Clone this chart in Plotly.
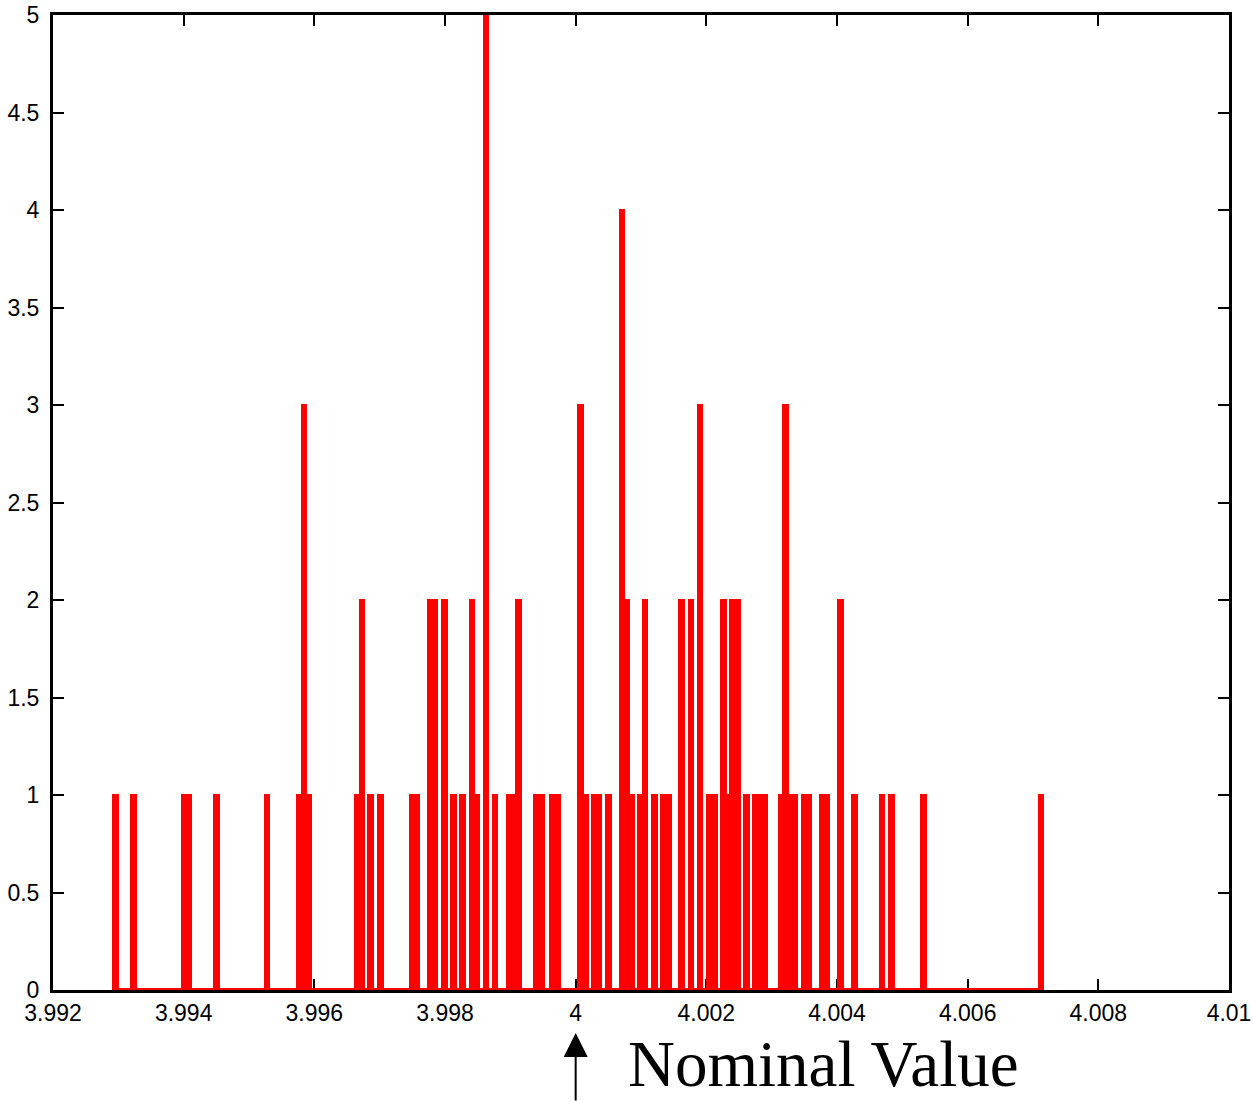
import plotly.graph_objects as go

# Histogram bin centres and their counts
bin_centers = [
    3.992954, 3.993235, 3.994010, 3.994082, 3.994499, 3.995276,
    3.995770, 3.995842, 3.995914, 3.996656, 3.996727, 3.996864, 3.997008,
    3.997499, 3.997571, 3.997775, 3.997847, 3.997989, 3.998133, 3.998272,
    3.998413, 3.998485, 3.998628, 3.998765, 3.998980, 3.999052, 3.999122,
    3.999404, 3.999474, 3.999648, 3.999719,
    4.000077, 4.000148, 4.000284, 4.000355, 4.000498, 4.000709, 4.000780,
    4.000850, 4.000990, 4.001061, 4.001202, 4.001346, 4.001416, 4.001623,
    4.001765, 4.001903, 4.002050, 4.002120, 4.002261, 4.002332, 4.002402,
    4.002472, 4.002612, 4.002753, 4.002824, 4.002895, 4.003143, 4.003214,
    4.003285, 4.003356, 4.003498, 4.003569, 4.003775, 4.003846, 4.004057,
    4.004268, 4.004689, 4.004834, 4.005321, 4.007122,
]
counts = [
    1, 1, 1, 1, 1, 1,
    1, 3, 1, 1, 2, 1, 1,
    1, 1, 2, 2, 2, 1, 1,
    2, 1, 5, 1, 1, 1, 2,
    1, 1, 1, 1,
    3, 1, 1, 1, 1, 4, 2,
    1, 1, 2, 1, 1, 1, 2,
    2, 3, 1, 1, 2, 1, 2,
    2, 1, 1, 1, 1, 1, 3,
    1, 1, 1, 1, 1, 1, 2,
    1, 1, 1, 1, 1,
]
bin_width = 0.0000712

x_tick_vals = [3.992, 3.994, 3.996, 3.998, 4.0, 4.002, 4.004, 4.006, 4.008, 4.01]
x_tick_text = ["3.992", "3.994", "3.996", "3.998", "4", "4.002", "4.004", "4.006", "4.008", "4.01"]
y_tick_vals = [0, 0.5, 1, 1.5, 2, 2.5, 3, 3.5, 4, 4.5, 5]
y_tick_text = ["0", "0.5", "1", "1.5", "2", "2.5", "3", "3.5", "4", "4.5", "5"]

annotation_text = "Nominal Value"
nominal_value = 4.0

RED = "#ff0000"

fig = go.Figure()
fig.add_trace(go.Bar(
    x=bin_centers, y=counts, width=bin_width,
    marker=dict(color=RED, line=dict(color=RED, width=2)),
    showlegend=False, hoverinfo="x+y",
))
# zero-height bins drawn as a baseline from first to last bin edge
fig.add_trace(go.Scatter(
    x=[bin_centers[0] - bin_width / 2, bin_centers[-1] + bin_width / 2], y=[0, 0],
    mode="lines", line=dict(color=RED, width=4), cliponaxis=False,
    showlegend=False, hoverinfo="skip",
))

axis_font = dict(family="Liberation Sans, Arial, sans-serif", size=23, color="black")
fig.update_xaxes(
    range=[3.992, 4.01], tickvals=x_tick_vals, ticktext=x_tick_text,
    ticks="inside", ticklen=11, tickwidth=2, tickcolor="black",
    showline=True, linecolor="black", linewidth=3, mirror="ticks",
    showgrid=False, zeroline=False, tickfont=axis_font, layer="below traces",
    automargin=False, ticklabelstandoff=0, ticklabeloverflow="allow",
)
fig.update_yaxes(
    range=[0, 5], tickvals=y_tick_vals, ticktext=y_tick_text,
    ticks="inside", ticklen=11, tickwidth=2, tickcolor="black",
    showline=True, linecolor="black", linewidth=3, mirror="ticks",
    showgrid=False, zeroline=False, tickfont=axis_font, layer="below traces",
    automargin=False, ticklabelstandoff=6, ticklabeloverflow="allow",
)

fig.add_annotation(
    x=nominal_value, xref="x", y=-0.0441, yref="paper",
    ax=0, ay=72, axref="pixel", ayref="pixel",
    text="", showarrow=True, arrowhead=2, arrowsize=2.4, arrowwidth=2,
    arrowcolor="black",
)
fig.add_annotation(
    x=0.4872, xref="paper", y=-0.1144, yref="paper",
    xanchor="left", yanchor="bottom", showarrow=False,
    text=annotation_text,
    font=dict(family="Liberation Serif, Times New Roman, serif", size=65, color="black"),
)

fig.update_layout(
    width=1253, height=1102,
    margin=dict(l=53, r=24, t=15, b=112, autoexpand=False),
    plot_bgcolor="white", paper_bgcolor="white",
    bargap=0,
)

# remove the page's default body margin so the figure sits at the window's top-left corner
fig.write_html(
    "out.html",
    config={"displayModeBar": False},
    post_script="document.body.style.margin='0';document.body.style.overflow='hidden';",
)
